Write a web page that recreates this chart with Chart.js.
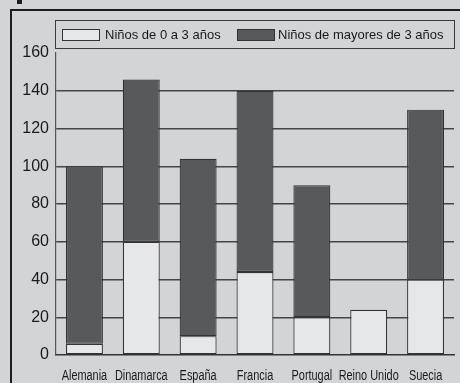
<!DOCTYPE html>
<html>
<head>
<meta charset="utf-8">
<script src="https://cdn.jsdelivr.net/npm/chart.js@4.4.1/dist/chart.umd.min.js"></script>
<style>
  html, body { margin: 0; padding: 0; background: #d3d4d6; }
  #wrap { width: 460px; height: 383px; }
</style>
</head>
<body>
<div id="wrap"><canvas id="c" width="460" height="383"></canvas></div>
<script>
// Países y número de niños por grupo de edad
const paises = ['Alemania', 'Dinamarca', 'España', 'Francia', 'Portugal', 'Reino Unido', 'Suecia'];
const ninos0a3 = [6, 60, 10, 44, 20, 24, 40];
const ninosMayores3 = [94, 86, 94, 96, 70, null, 90];
const etiquetasSerie = ['Niños de 0 a 3 años', 'Niños de mayores de 3 años'];
const ticksY = [0, 20, 40, 60, 80, 100, 120, 140, 160];

const FONDO = '#d3d4d6';
const CLARO = '#e6e7e9';
const OSCURO = '#58595b';
const BORDE = '#333333';
const TEXTO = '#1a1a1a';

// Marco de la figura, leyenda enmarcada y rótulos de categoría estrechos
const marcoYLeyenda = {
  id: 'marcoYLeyenda',
  beforeDraw(chart) {
    const ctx = chart.ctx;
    ctx.save();
    ctx.fillStyle = FONDO;
    ctx.fillRect(0, 0, chart.width, chart.height);
    ctx.fillStyle = '#1e1e1e';
    ctx.fillRect(10, 9, chart.width - 10, 2);
    ctx.fillRect(10, 9, 2, chart.height - 9);
    ctx.fillRect(17, 0, 5, 4);
    ctx.restore();
  },
  afterDraw(chart) {
    const ctx = chart.ctx;
    ctx.save();
    ctx.strokeStyle = '#3a3a3a';
    ctx.lineWidth = 1;
    ctx.strokeRect(55.5, 20.5, 399, 28);
    ctx.font = '13px "Liberation Sans", Arial, sans-serif';
    ctx.textBaseline = 'middle';
    const items = [{ x: 62, tx: 105 }, { x: 237, tx: 278 }];
    chart.data.datasets.forEach((ds, i) => {
      const it = items[i];
      ctx.fillStyle = ds.backgroundColor;
      ctx.fillRect(it.x, 29, 38, 12);
      ctx.strokeStyle = BORDE;
      ctx.strokeRect(it.x + 0.5, 29.5, 37, 11);
      ctx.fillStyle = TEXTO;
      ctx.fillText(ds.label, it.tx, 35.5);
    });
    ctx.restore();

    // rótulos del eje x en letra condensada
    const xs = chart.scales.x;
    ctx.save();
    ctx.font = '14px "Liberation Sans", Arial, sans-serif';
    ctx.fillStyle = TEXTO;
    ctx.textAlign = 'center';
    ctx.textBaseline = 'alphabetic';
    chart.data.labels.forEach((lab, i) => {
      const px = xs.getPixelForTick(i);
      ctx.save();
      ctx.translate(px, 380);
      ctx.scale(0.78, 1);
      ctx.fillText(lab, 0, 0);
      ctx.restore();
    });
    ctx.restore();
  }
};

new Chart(document.getElementById('c'), {
  type: 'bar',
  data: {
    labels: paises,
    datasets: [
      { label: etiquetasSerie[0], data: ninos0a3, backgroundColor: CLARO, borderColor: BORDE, borderWidth: 1.2, borderSkipped: false },
      { label: etiquetasSerie[1], data: ninosMayores3, backgroundColor: OSCURO, borderColor: BORDE, borderWidth: 1.2, borderSkipped: false }
    ]
  },
  options: {
    responsive: false,
    devicePixelRatio: 1,
    animation: false,
    layout: { padding: { left: 0, right: 6, top: 53, bottom: 0 } },
    datasets: { bar: { barPercentage: 0.65, categoryPercentage: 1 } },
    plugins: { legend: { display: false }, tooltip: { enabled: false } },
    scales: {
      x: {
        stacked: true,
        grid: { display: false },
        border: { display: true, color: BORDE, width: 1.5 },
        ticks: { color: 'rgba(0,0,0,0)', font: { size: 13 }, maxRotation: 0, autoSkip: false },
        afterFit(s) { s.height = 28; }
      },
      y: {
        stacked: true,
        min: ticksY[0],
        max: ticksY[ticksY.length - 1],
        afterBuildTicks(s) { s.ticks = ticksY.map(v => ({ value: v })); },
        ticks: {
          color: TEXTO,
          font: { family: '"Liberation Sans", Arial, sans-serif', size: 16 },
          padding: 7
        },
        grid: {
          drawTicks: false,
          lineWidth: 1.4,
          color: c => (c.tick && (c.tick.value === 0 || c.tick.value === 160)) ? 'rgba(0,0,0,0)' : '#454545'
        },
        border: { display: true, color: '#555555', width: 1.2 },
        afterFit(s) { s.width = 56; }
      }
    }
  },
  plugins: [marcoYLeyenda]
});
</script>
</body>
</html>
